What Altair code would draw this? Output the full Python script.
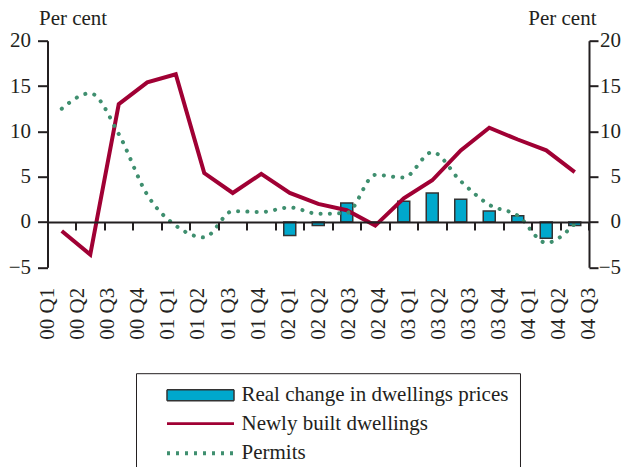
import altair as alt
import pandas as pd

quarters = ["00 Q1", "00 Q2", "00 Q3", "00 Q4", "01 Q1", "01 Q2", "01 Q3", "01 Q4",
            "02 Q1", "02 Q2", "02 Q3", "02 Q4", "03 Q1", "03 Q2", "03 Q3", "03 Q4",
            "04 Q1", "04 Q2", "04 Q3"]
real_price_change = [None, None, None, None, None, None, None, None,
                     -1.5, -0.4, 2.1, 0.0, 2.3, 3.2, 2.5, 1.2, 0.7, -1.8, -0.4]
newly_built = [-1.0, -3.6, 13.0, 15.4, 16.3, 5.4, 3.2, 5.3, 3.2, 2.0, 1.3, -0.4,
               2.6, 4.6, 7.9, 10.4, 9.1, 7.9, 5.5]
permits = [12.5, 14.2, 9.7, 3.0, -0.4, -1.7, 1.2, 1.1, 1.6, 0.9, 1.0, 5.2,
           4.9, 7.7, 4.5, 1.9, 0.7, -2.3, -0.2]
series_names = ["Real change in dwellings prices", "Newly built dwellings", "Permits"]
y_ticks = [-5, 0, 5, 10, 15, 20]

df = pd.DataFrame({"quarter": quarters, "price": real_price_change,
                   "newly": newly_built, "permits": permits})
legend_df = pd.DataFrame({"series": series_names})

FONT = "Liberation Serif"
INK = "#231f20"
TEAL = "#00a8cc"
RED = "#a00034"
GREEN = "#3f8f6f"
W, H = 541.5, 226.6
FS = 21

yscale = alt.Scale(domain=[-5, 20], nice=False)
xband = alt.Scale(type="band", domain=quarters, paddingInner=0, paddingOuter=0)

left_axis = alt.Axis(values=y_ticks, title="Per cent", titleAngle=0, titleAlign="left",
                     titleBaseline="alphabetic", titleX=-9, titleY=-16, grid=False,
                     tickSize=10, tickWidth=2, domainWidth=2, labelPadding=7)
right_axis = alt.Axis(orient="right", values=y_ticks, title="Per cent", titleAngle=0,
                      titleAlign="right", titleBaseline="alphabetic", titleX=7, titleY=-16,
                      grid=False, tickSize=9, tickWidth=2, domainWidth=2,
                      labelAlign="right", labelPadding=22.5)
zero_axis = alt.Axis(orient="bottom", labels=False, title=None, bandPosition=1,
                     tickSize=8, tickWidth=2, domainWidth=2, offset=-(H * 5 / 25),
                     zindex=1, grid=False)
label_axis = alt.Axis(orient="bottom", title=None, labelAngle=270, ticks=False,
                      tickSize=0, domain=False, labelPadding=20, labelOverlap=False,
                      grid=False)

base = alt.Chart(df)
bars = base.mark_bar(size=12, fill=TEAL, stroke="#333333", strokeWidth=1.5).encode(
    x=alt.X("quarter:N", scale=xband, axis=zero_axis, sort=quarters),
    y=alt.Y("price:Q", scale=yscale, axis=left_axis),
    y2=alt.datum(0),
)
red = base.mark_line(color=RED, strokeWidth=4, strokeJoin="miter").encode(
    x=alt.X("quarter:N", scale=xband, sort=quarters),
    y=alt.Y("newly:Q", scale=yscale),
)
green = base.mark_line(color=GREEN, strokeWidth=4, strokeDash=[0.1, 9.2],
                       strokeCap="round", interpolate="monotone").encode(
    x=alt.X("quarter:N", scale=xband, sort=quarters),
    y=alt.Y("permits:Q", scale=yscale),
)
inner = alt.layer(bars, red, green)

labels_layer = base.mark_point(opacity=0).encode(
    x=alt.X("quarter:N", scale=alt.Scale(type="point", domain=quarters, padding=0),
            axis=label_axis, sort=quarters),
    y=alt.Y("newly:Q", scale=yscale, axis=right_axis),
)

rect_path = "M-3.35,-0.55L3.35,-0.55L3.35,0.55L-3.35,0.55Z"
line_path = "M-3.35,0L3.35,0"
legend = alt.Legend(orient="none", legendX=88.5, legendY=332.5, title=None,
                    padding=11, symbolOffset=41.5, labelOffset=29, symbolSize=400,
                    strokeColor=INK, labelFont=FONT, labelFontSize=FS, labelColor=INK,
                    labelLimit=500, rowPadding=7)
legend_layer = alt.Chart(legend_df).mark_point(filled=True, opacity=1).encode(
    color=alt.Color("series:N", scale=alt.Scale(domain=series_names,
                    range=[TEAL, "transparent", "transparent"]), legend=legend),
    stroke=alt.Stroke("series:N", scale=alt.Scale(domain=series_names,
                      range=["#333333", RED, GREEN]), legend=legend),
    shape=alt.Shape("series:N", scale=alt.Scale(domain=series_names,
                    range=[rect_path, line_path, line_path]), legend=legend),
    strokeDash=alt.StrokeDash("series:N", scale=alt.Scale(domain=series_names,
                              range=[[1, 0], [1, 0], [3, 6]]), legend=legend),
    strokeWidth=alt.StrokeWidth("series:O", scale=alt.Scale(domain=series_names,
                                range=[1.5, 4, 4]), legend=legend),
).transform_filter("false")

chart = alt.layer(inner, labels_layer, legend_layer).resolve_scale(
    x="independent"
).resolve_axis(y="independent").properties(
    width=W, height=H,
    autosize=alt.AutoSizeParams(type="none"),
    padding={"left": 39.5, "top": 32.7, "right": 33, "bottom": 200},
).configure_axis(
    labelFont=FONT, labelFontSize=FS, titleFont=FONT, titleFontSize=FS,
    titleFontWeight="normal", labelColor=INK, titleColor=INK,
    domainColor=INK, tickColor=INK,
).configure_view(strokeWidth=0)

chart.save("out.html", embed_options={"renderer": "svg", "actions": False})
